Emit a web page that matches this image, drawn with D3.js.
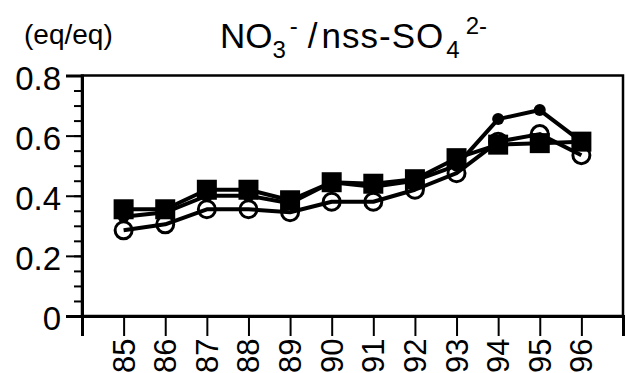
<!DOCTYPE html>
<html><head><meta charset="utf-8">
<script src="https://cdn.jsdelivr.net/npm/d3@7"></script>
<style>
html,body{margin:0;padding:0;background:#fff;}
text{font-family:"Liberation Sans",Arial,Helvetica,sans-serif;fill:#000;}
</style></head>
<body>
<svg id="chart" width="626" height="373"></svg>
<script>
const years = ["85","86","87","88","89","90","91","92","93","94","95","96"];
const squares = [0.355,0.355,0.42,0.42,0.385,0.445,0.44,0.455,0.525,0.57,0.575,0.58];
const openCircles = [0.285,0.305,0.355,0.355,0.345,0.38,0.38,0.42,0.475,0.58,0.605,0.535];
const dots = [0.33,0.345,0.40,0.40,0.375,0.445,0.43,0.45,0.50,0.655,0.685,0.58];
const yTicks = [0,0.2,0.4,0.6,0.8];
const yMinor = d3.range(0,0.8001,0.05);

const svg = d3.select("#chart");
svg.append("rect").attr("width",626).attr("height",373).attr("fill","#fff");

const L=82, R=623, T=75.5, B=316;
const x = d3.scaleLinear().domain([0, years.length+1]).range([L,R]);
const y = d3.scaleLinear().domain([0,0.8]).range([B,T]);

// frame
svg.append("rect").attr("x",L).attr("y",T).attr("width",R-L).attr("height",B-T)
  .attr("fill","none").attr("stroke","#000").attr("stroke-width",2.5);

// y axis minor
const gyMinor = svg.append("g").attr("transform",`translate(${L},0)`)
  .call(d3.axisLeft(y).tickValues(yMinor).tickSize(8).tickFormat(""));
gyMinor.selectAll("path").remove();
gyMinor.selectAll("line").attr("stroke","#000").attr("stroke-width",2);

// y axis major
const gy = svg.append("g").attr("transform",`translate(${L},0)`)
  .call(d3.axisLeft(y).tickValues(yTicks).tickSize(16).tickPadding(5)
    .tickFormat(d=> d===0 ? "0" : d3.format(".1f")(d)));
gy.select("path").attr("stroke","#000").attr("stroke-width",3);
gy.selectAll("line").attr("stroke","#000").attr("stroke-width",2);
gy.selectAll("text").attr("font-size",33).attr("dy","0.42em")
  .attr("font-family","Liberation Sans, Arial, sans-serif");

// x axis ticks
const gx = svg.append("g").attr("transform",`translate(0,${B})`)
  .call(d3.axisBottom(x).tickValues(d3.range(0,years.length+2)).tickSize(20).tickFormat(""));
gx.select("path").attr("stroke","#000").attr("stroke-width",3);
gx.selectAll("line").attr("stroke","#000").attr("stroke-width",2);

// x labels rotated
svg.append("g").selectAll("text").data(years).enter().append("text")
  .attr("transform",(d,i)=>`translate(${x(i+1)+11},373) rotate(-90)`)
  .attr("text-anchor","start").attr("font-size",31).text(d=>d);

// lines
const line = vals => d3.line().x((d,i)=>x(i+1)).y(d=>y(d))(vals);
[dots, openCircles, squares].forEach(s=>{
  svg.append("path").attr("d",line(s)).attr("fill","none")
    .attr("stroke","#000").attr("stroke-width",4).attr("stroke-linejoin","round");
});

// markers
svg.append("g").selectAll("circle").data(openCircles).enter().append("circle")
  .attr("cx",(d,i)=>x(i+1)).attr("cy",d=>y(d)).attr("r",8.5)
  .attr("fill","none").attr("stroke","#000").attr("stroke-width",3);
svg.append("g").selectAll("rect").data(squares).enter().append("rect")
  .attr("x",(d,i)=>x(i+1)-10).attr("y",d=>y(d)-10).attr("width",20).attr("height",20)
  .attr("fill","#000");
svg.append("g").selectAll("circle").data(dots).enter().append("circle")
  .attr("cx",(d,i)=>x(i+1)).attr("cy",d=>y(d)).attr("r",6).attr("fill","#000");

// title
svg.append("text").attr("x",24).attr("y",44).attr("font-size",28).text("(eq/eq)");
const t = svg.append("text").attr("x",220).attr("y",48).attr("font-size",35);
t.append("tspan").text("NO");
t.append("tspan").attr("font-size",24).attr("dy",10).text("3");
t.append("tspan").attr("font-size",24).attr("dy",-24).attr("dx",4).text("-");
t.append("tspan").attr("dy",14).attr("dx",10).attr("font-weight","300").text("/");
t.append("tspan").attr("dx",4).attr("letter-spacing",1).text("nss-SO");
t.append("tspan").attr("font-size",24).attr("dy",10).attr("dx",2).text("4");
t.append("tspan").attr("font-size",24).attr("dy",-24).attr("dx",6).text("2-");
</script>
</body></html>
